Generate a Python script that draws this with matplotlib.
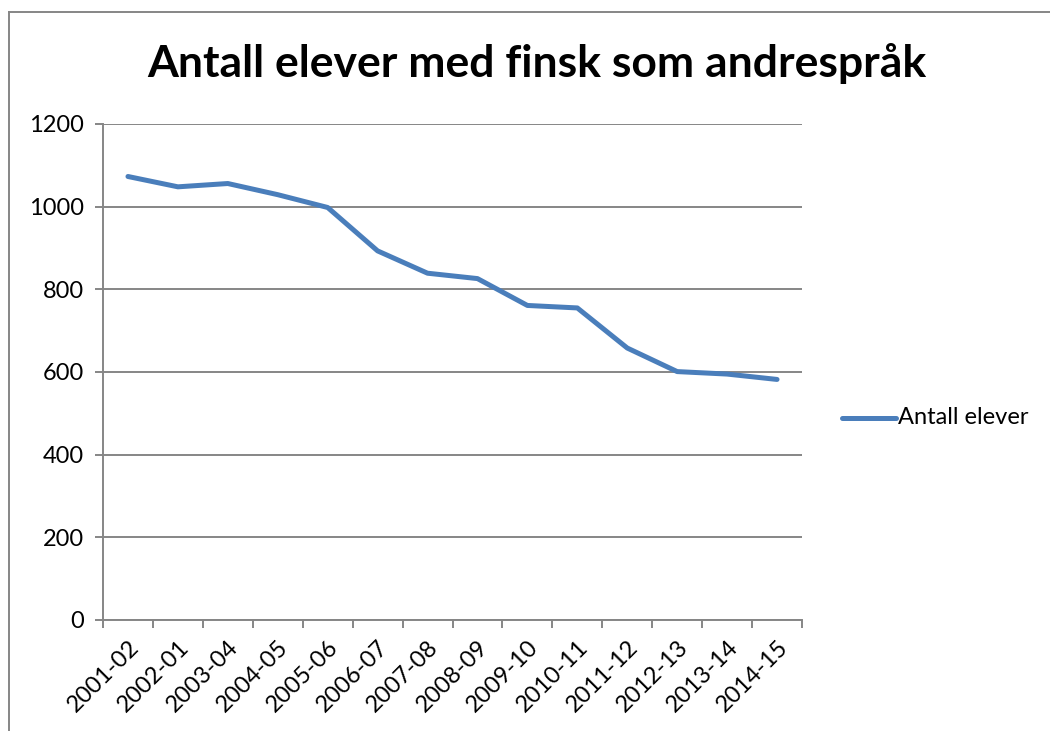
import numpy as np
import matplotlib
matplotlib.use("Agg")
import matplotlib.pyplot as plt
import matplotlib.transforms as mtransforms
from matplotlib.lines import Line2D

# data
years = ["2001-02", "2002-01", "2003-04", "2004-05", "2005-06", "2006-07", "2007-08",
         "2008-09", "2009-10", "2010-11", "2011-12", "2012-13", "2013-14", "2014-15"]
students = [1073, 1048, 1056, 1029, 998, 893, 839, 826, 761, 755, 658, 601, 595, 582]
y_ticks = [0, 200, 400, 600, 800, 1000, 1200]

TITLE = "Antall elever med finsk som andrespråk"
SERIES = "Antall elever"
LINE_C = "#4a7ebb"
GRID_C = "#868686"

plt.rcParams["font.family"] = ["Lato", "DejaVu Sans"]

W, H = 1050, 731
fig = plt.figure(figsize=(W / 100, H / 100), dpi=100)
ax = fig.add_axes([103 / W, 1 - 620 / H, (802 - 103) / W, (620 - 124) / H])

x = np.arange(len(years))
ax.plot(x, students, color=LINE_C, lw=3.6, solid_capstyle="round",
        solid_joinstyle="round", zorder=3)

ax.set_xlim(-0.5, len(years) - 0.5)
ax.set_ylim(0, 1200)
ax.set_yticks(y_ticks)
ax.set_yticklabels([str(v) for v in y_ticks], fontsize=17)
ax.yaxis.grid(True, color=GRID_C, lw=1.4)
ax.set_axisbelow(True)

# labels at category centres, tick marks at boundaries
ax.set_xticks(x)
ax.set_xticklabels(years, rotation=45, ha="right", va="top",
                   rotation_mode="anchor", fontsize=17)
shift = mtransforms.ScaledTranslation(8 / 100, 0, fig.dpi_scale_trans)
for lbl in ax.get_xticklabels():
    lbl.set_transform(lbl.get_transform() + shift)
ax.tick_params(axis="x", which="major", length=0, pad=12)
ax.set_xticks(np.arange(len(years) + 1) - 0.5, minor=True)
ax.tick_params(axis="x", which="minor", length=6, width=1.4, color=GRID_C,
               direction="out")
ax.tick_params(axis="y", length=6, width=1.4, color=GRID_C, pad=8)

for s in ["top", "right"]:
    ax.spines[s].set_visible(False)
for s in ["left", "bottom"]:
    ax.spines[s].set_color(GRID_C)
    ax.spines[s].set_linewidth(1.4)

fig.text(537 / W, 1 - 64 / H, TITLE, fontsize=32, fontweight="bold",
         ha="center", va="center")

# legend to the right of the plot area
fig.add_artist(Line2D([842 / W, 896 / W], [1 - 418 / H, 1 - 418 / H],
                      color=LINE_C, lw=3.6, solid_capstyle="round"))
fig.text(898 / W, 1 - 418 / H, SERIES, fontsize=17, va="center", ha="left")

# chart-area border (only left and top are inside the picture)
fig.add_artist(Line2D([9 / W, 9 / W], [0, 1 - 12 / H], color=GRID_C, lw=1.4))
fig.add_artist(Line2D([9 / W, 1], [1 - 12 / H, 1 - 12 / H], color=GRID_C, lw=1.4))

fig.savefig("out.png", dpi=100)
